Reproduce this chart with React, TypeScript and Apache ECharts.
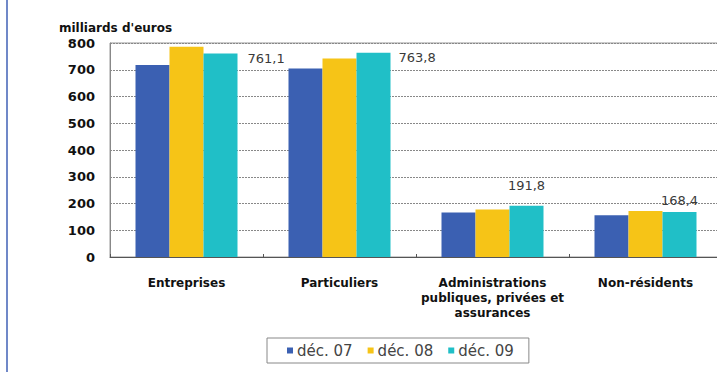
import React, { useEffect, useRef } from "react";
import * as echarts from "echarts";

const categories = [
  "Entreprises",
  "Particuliers",
  "Administrations\npubliques, privées et\nassurances",
  "Non-résidents",
];
const seriesNames = ["déc. 07", "déc. 08", "déc. 09"];
const dec07 = [718, 705, 166, 156];
const dec08 = [786, 742, 178, 172];
const dec09 = [761.1, 763.8, 191.8, 168.4];
const yTicks = { min: 0, max: 800, interval: 100 };
const yAxisTitle = "milliards d'euros";

const colors = ["#3b60b2", "#f6c417", "#20bfc7"];

export default function App() {
  const ref = useRef<HTMLDivElement>(null);
  useEffect(() => {
    if (!ref.current) return;
    const chart = echarts.init(ref.current, undefined, { renderer: "svg" });
    const fmt = (v: number) => v.toFixed(1).replace(".", ",");
    const labelCfg = [
      { position: "right", distance: 10 },
      { position: "right", distance: 8 },
      { position: "top", distance: 14 },
      { position: "top", distance: 5 },
    ];
    const dec09Data = dec09.map((v, i) => {
      const l: any = labelCfg[i];
      if (l.position === "right") {
        return {
          value: v,
          label: {
            show: true,
            position: ["100%", 0],
            offset: [l.distance, 5],
            align: "left",
            verticalAlign: "middle",
          },
        };
      }
      return { value: v, label: { show: true, position: "top", distance: l.distance } };
    });
    const mk = (name: string, data: any[], color: string, withLabel: boolean) => ({
      name,
      type: "bar",
      data,
      barWidth: 34,
      barGap: "0%",
      itemStyle: { color },
      label: withLabel
        ? {
            show: false,
            formatter: (p: any) => fmt(p.value),
            fontFamily: "DejaVu Sans",
            fontSize: 13,
            color: "#3a3a3a",
          }
        : { show: false },
    });
    chart.setOption({
      animation: false,
      color: colors,
      title: {
        text: yAxisTitle,
        left: 59,
        top: 22,
        padding: 0,
        textStyle: {
          fontFamily: "DejaVu Sans",
          fontWeight: "bold",
          fontSize: 12,
          color: "#111",
        },
      },
      grid: {
        left: 110,
        top: 43,
        width: 612,
        bottom: 115,
        outerBoundsMode: "none",
        containLabel: false,
        show: true,
        borderColor: "#999",
        borderWidth: 1,
        backgroundColor: "transparent",
      },
      legend: {
        data: seriesNames,
        left: 267,
        top: 338,
        padding: [5, 15, 5, 20],
        borderColor: "#888",
        borderWidth: 1,
        itemWidth: 6,
        itemHeight: 6,
        itemGap: 15,
        icon: "rect",
        textStyle: {
          fontFamily: "DejaVu Sans",
          fontSize: 15,
          color: "#444",
          padding: [0, 0, 0, -1],
        },
      },
      graphic: [
        {
          type: "rect",
          shape: { x: 6, y: 0, width: 2, height: 372 },
          style: { fill: "#7088c8" },
        },
      ],
      xAxis: {
        type: "category",
        data: categories,
        axisLine: { lineStyle: { color: "#555", width: 1 } },
        axisTick: { show: true, inside: true, length: 3, lineStyle: { color: "#555" } },
        axisLabel: {
          interval: 0,
          margin: 18,
          fontFamily: "DejaVu Sans",
          fontWeight: "bold",
          fontSize: 12,
          lineHeight: 15,
          color: "#111",
        },
      },
      yAxis: {
        type: "value",
        min: yTicks.min,
        max: yTicks.max,
        interval: yTicks.interval,
        axisLine: { show: true, lineStyle: { color: "#888" } },
        axisTick: { show: false },
        splitLine: { lineStyle: { color: "#888", type: [2, 1], width: 1 } },
        axisLabel: {
          margin: 15,
          fontFamily: "DejaVu Sans",
          fontWeight: "bold",
          fontSize: 13,
          color: "#111",
        },
      },
      series: [
        mk(seriesNames[0], dec07, colors[0], false),
        mk(seriesNames[1], dec08, colors[1], false),
        mk(seriesNames[2], dec09Data, colors[2], true),
      ],
    });
    return () => chart.dispose();
  }, []);
  return (
    <div
      ref={ref}
      style={{ position: "absolute", left: 0, top: 0, width: 717, height: 372, background: "#fff" }}
    />
  );
}
